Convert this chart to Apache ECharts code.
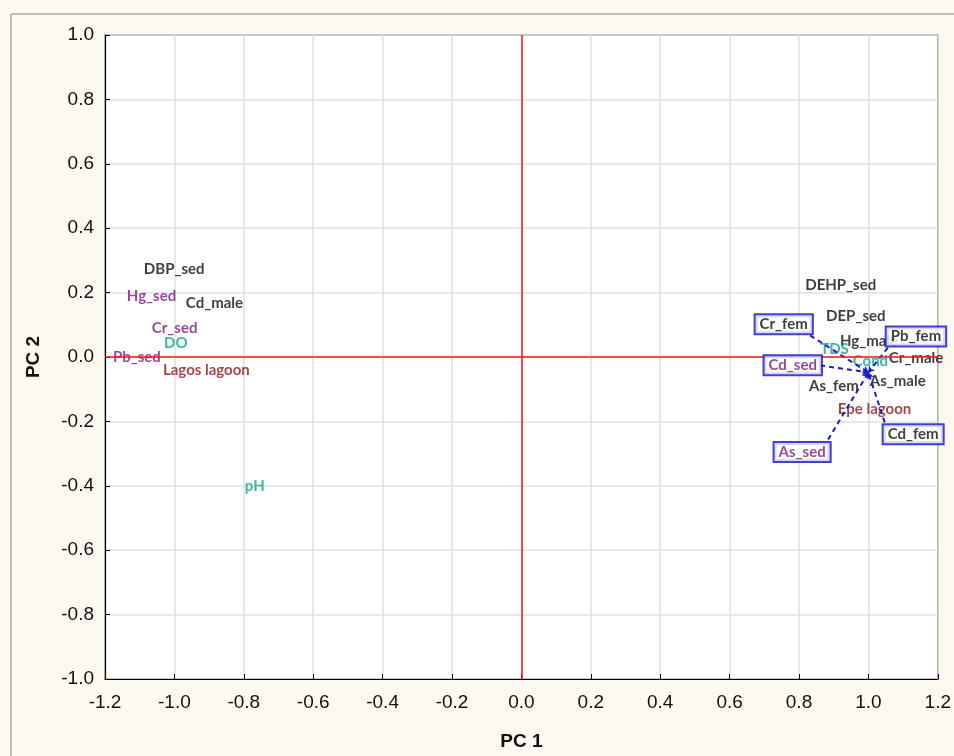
<!DOCTYPE html>
<html>
<head>
<meta charset="utf-8">
<script src="https://cdn.jsdelivr.net/npm/echarts@6/dist/echarts.min.js"></script>
<style>
html,body{margin:0;padding:0;background:#fcf9f0;}
#chart{width:954px;height:756px;}
</style>
</head>
<body>
<div id="chart"></div>
<script>
// ---- data ----
const axisTicks = [-1.2, -1.0, -0.8, -0.6, -0.4, -0.2, 0.0, 0.2, 0.4, 0.6, 0.8, 1.0, 1.2];
const yTicks = [-1.0, -0.8, -0.6, -0.4, -0.2, 0.0, 0.2, 0.4, 0.6, 0.8, 1.0];

// plain labelled points (PC1, PC2)
const varNames = ['DBP_sed','Hg_sed','Cd_male','Cr_sed','DO','Pb_sed','Lagos lagoon','pH',
                  'DEHP_sed','DEP_sed','Hg_male','TDS','Cond','Cr_male','As_male','As_fem','Epe lagoon'];
const pc1 = [-1.088,-1.137,-0.967,-1.065,-1.030,-1.177,-1.033,-0.797,
              0.818, 0.878, 0.918, 0.861, 0.955, 1.059, 1.004, 0.829, 0.912];
const pc2 = [ 0.274, 0.188, 0.166, 0.091, 0.042, 0.000,-0.042,-0.400,
              0.222, 0.126, 0.048, 0.023,-0.014,-0.005,-0.076,-0.092,-0.163];
const varGroup = ['other','sed','other','sed','water','sed','site','water',
                  'other','other','other','water','water','other','other','other','site'];

// boxed call-out labels (box centre, PC units) and where their leader lines start
const calloutNames = ['Cr_fem','Pb_fem','Cd_sed','Cd_fem','As_sed'];
const calloutPc1 = [0.756, 1.137, 0.782, 1.129, 0.809];
const calloutPc2 = [0.102, 0.064,-0.026,-0.240,-0.295];
const calloutGroup = ['other','other','sed','other','sed'];
const leaderStartPc1 = [0.832, 1.056, 0.861, 1.047, 0.884];
const leaderStartPc2 = [0.067, 0.029,-0.026,-0.203,-0.256];
const leaderTarget = [1.000, -0.048];

const zeroLines = [0, 0];

// ---- styles ----
const groupColor = {other:'#0d0d0d', sed:'#7e157f', water:'#0ea67f', site:'#8e1515'};
const labelFont = {fontFamily:'Lato', fontWeight:'bold', fontSize:15};

const chart = echarts.init(document.getElementById('chart'));

const pointData = varNames.map((n,i)=>({
  name:n, value:[pc1[i], pc2[i]],
  label:{color:groupColor[varGroup[i]]}
}));
const boxData = calloutNames.map((n,i)=>({
  name:n, value:[calloutPc1[i], calloutPc2[i]],
  label:{color:groupColor[calloutGroup[i]]}
}));
const leaderData = calloutNames.map((n,i)=>({
  coords:[[leaderStartPc1[i], leaderStartPc2[i]], leaderTarget]
}));

const tickFmt = v => (Math.abs(v) < 1e-9 ? 0 : v).toFixed(1);

chart.setOption({
  animation:false,
  backgroundColor:'#fcf9f0',
  graphic:[
    {type:'line', shape:{x1:11,y1:14,x2:954,y2:14}, style:{stroke:'#a8a8a8', lineWidth:1.5}, z:0},
    {type:'line', shape:{x1:11,y1:14,x2:11,y2:756}, style:{stroke:'#a8a8a8', lineWidth:1.5}, z:0}
  ],
  grid:{left:105, right:13, top:35, bottom:76, show:true, backgroundColor:'#ffffff',
        borderColor:'#000', borderWidth:1.2},
  xAxis:{
    type:'value', min:axisTicks[0], max:axisTicks[axisTicks.length-1], interval:0.2,
    axisLine:{onZero:false, lineStyle:{color:'#000', width:1.2}},
    axisTick:{inside:true, length:5, lineStyle:{color:'#000'}},
    axisLabel:{formatter:tickFmt, color:'#111', fontFamily:'Liberation Sans', fontSize:19, margin:14},
    splitLine:{lineStyle:{color:'#e0e0e0', width:1.5}},
    name:'PC 1', nameLocation:'middle', nameGap:53,
    nameTextStyle:{fontFamily:'Liberation Sans', fontWeight:'bold', fontSize:19, color:'#111'}
  },
  yAxis:{
    type:'value', min:yTicks[0], max:yTicks[yTicks.length-1], interval:0.2,
    axisLine:{onZero:false, lineStyle:{color:'#000', width:1.2}},
    axisTick:{inside:true, length:5, lineStyle:{color:'#000'}},
    axisLabel:{formatter:tickFmt, color:'#111', fontFamily:'Liberation Sans', fontSize:19, margin:11},
    splitLine:{lineStyle:{color:'#e0e0e0', width:1.5}},
    name:'PC 2', nameLocation:'middle', nameGap:62, nameRotate:90,
    nameTextStyle:{fontFamily:'Liberation Sans', fontWeight:'bold', fontSize:19, color:'#111'}
  },
  series:[
    {
      type:'scatter', symbolSize:0, data:[], silent:true,
      markLine:{
        silent:true, symbol:['none','none'], label:{show:false},
        lineStyle:{color:'#ff1414', type:'solid', width:1.5},
        data:[{xAxis:zeroLines[0]}, {yAxis:zeroLines[1]}]
      }
    },
    {
      type:'scatter', symbolSize:0, data:pointData, z:3,
      label:{show:true, position:'right', distance:0, formatter:'{b}', ...labelFont}
    },
    {
      type:'lines', coordinateSystem:'cartesian2d', data:leaderData, z:4,
      symbol:['none','arrow'], symbolSize:[0,6],
      lineStyle:{color:'#1a1ad0', width:2, type:[5,4], opacity:1}
    },
    {
      type:'scatter', symbolSize:0, data:boxData, z:5,
      label:{show:true, position:'inside', formatter:'{b}', ...labelFont,
             backgroundColor:'#ffffff', borderColor:'#1010c8', borderWidth:2,
             padding:[2,4,1,4]}
    }
  ]
});
</script>
</body>
</html>
